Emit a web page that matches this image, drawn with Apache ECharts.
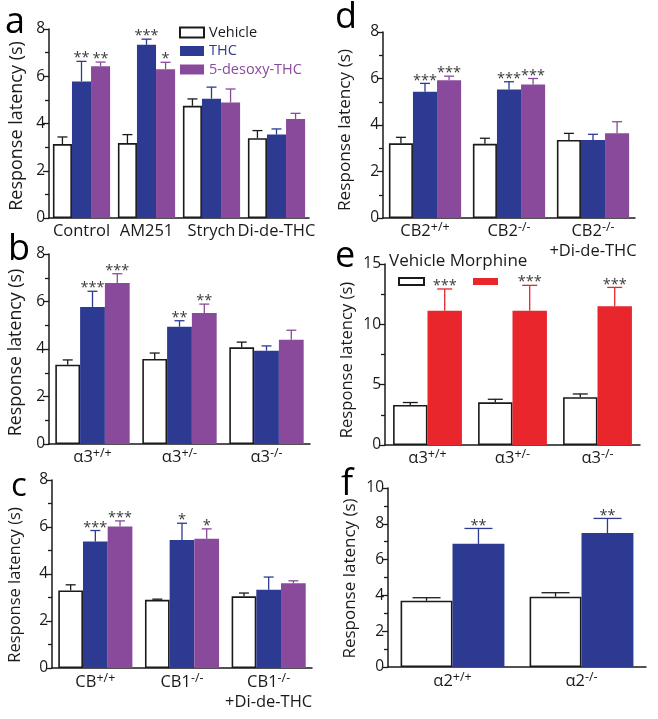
<!DOCTYPE html>
<html><head><meta charset="utf-8">
<script src="https://cdn.jsdelivr.net/npm/echarts@6/dist/echarts.min.js"></script>
<style>html,body{margin:0;padding:0;background:#fff}#c{width:658px;height:719px}</style>
</head><body><div id="c"></div><script>
// ---------- DATA ----------
// panel a
const aCats = ['Control', 'AM251', 'Strych', 'Di-de-THC'];
const aVehicle = [3.13, 3.17, 4.75, 3.38];
const aVehicleErr = [0.30, 0.36, 0.29, 0.32];
const aTHC = [5.78, 7.33, 5.05, 3.53];
const aTHCErr = [0.85, 0.24, 0.49, 0.24];
const aDesoxy = [6.42, 6.30, 4.89, 4.19];
const aDesoxyErr = [0.18, 0.29, 0.57, 0.24];
const aTHCSig = ['**', '***', '', ''];
const aDesoxySig = ['**', '*', '', ''];
const aYTicks = [0, 8, 2];
// panel b
const bCats = ['α3^+/+', 'α3^+/-', 'α3^-/-'];
const bVehicle = [3.34, 3.58, 4.07];
const bVehicleErr = [0.20, 0.25, 0.22];
const bTHC = [5.77, 4.94, 3.93];
const bTHCErr = [0.66, 0.25, 0.20];
const bDesoxy = [6.78, 5.52, 4.39];
const bDesoxyErr = [0.39, 0.37, 0.40];
const bTHCSig = ['***', '**', ''];
const bDesoxySig = ['***', '**', ''];
const bYTicks = [0, 8, 2];
// panel c
const cCats = ['CB^+/+', 'CB1^-/-', 'CB1^-/-\n+Di-de-THC'];
const cVehicle = [3.30, 2.90, 3.05];
const cVehicleErr = [0.24, 0.03, 0.14];
const cTHC = [5.38, 5.45, 3.33];
const cTHCErr = [0.47, 0.71, 0.54];
const cDesoxy = [6.02, 5.50, 3.61];
const cDesoxyErr = [0.24, 0.42, 0.10];
const cTHCSig = ['***', '*', ''];
const cDesoxySig = ['***', '*', ''];
const cYTicks = [0, 8, 2];
// panel d
const dCats = ['CB2^+/+', 'CB2^-/-', 'CB2^-/-\n+Di-de-THC'];
const dVehicle = [3.21, 3.19, 3.36];
const dVehicleErr = [0.26, 0.24, 0.28];
const dTHC = [5.43, 5.53, 3.36];
const dTHCErr = [0.36, 0.33, 0.24];
const dDesoxy = [5.93, 5.74, 3.64];
const dDesoxyErr = [0.17, 0.26, 0.50];
const dTHCSig = ['***', '***', ''];
const dDesoxySig = ['***', '***', ''];
const dYTicks = [0, 8, 2];
// panel e
const eCats = ['α3^+/+', 'α3^+/-', 'α3^-/-'];
const eVehicle = [3.32, 3.54, 3.96];
const eVehicleErr = [0.20, 0.25, 0.27];
const eMorphine = [11.13, 11.13, 11.49];
const eMorphineErr = [1.80, 2.10, 1.57];
const eVehicleSig = ['', '', ''];
const eMorphineSig = ['***', '***', '***'];
const eYTicks = [0, 15, 5];
// panel f
const fCats = ['α2^+/+', 'α2^-/-'];
const fVehicle = [3.70, 3.93];
const fVehicleErr = [0.17, 0.22];
const fTHC = [6.88, 7.48];
const fTHCErr = [0.86, 0.82];
const fVehicleSig = ['', ''];
const fTHCSig = ['**', '**'];
const fYTicks = [0, 10, 2];
const noSig3 = ['', '', ''];
const noSig4 = ['', '', '', ''];

// ---------- STYLE ----------
const FONT = '"Open Sans", "Noto Sans", sans-serif';
const BLUE = '#2d3a92', PURPLE = '#8a4a9c', RED = '#e8262c', INK = '#1a1a1a', STAR = '#3a3a3a';
const VEH = {fill: '#ffffff', border: INK, err: INK};
const BLU = {fill: BLUE, border: BLUE, err: BLUE};
const PUR = {fill: PURPLE, border: PURPLE, err: PURPLE};
const REDS = {fill: RED, border: RED, err: RED};

const panels = [
  {grid: {left: 49, top: 29, width: 260, height: 189}, cats: aCats, ticks: aYTicks, gap: 0.12, cap: 10,
   nameGap: 23.5, nameSize: 18, nameShift: 2.5, labelMargin: 3,
   series: [
     {name: 'Vehicle', v: aVehicle, e: aVehicleErr, sig: noSig4, st: VEH},
     {name: 'THC', v: aTHC, e: aTHCErr, sig: aTHCSig, st: BLU},
     {name: '5-desoxy-THC', v: aDesoxy, e: aDesoxyErr, sig: aDesoxySig, st: PUR}]},
  {grid: {left: 49, top: 254, width: 261, height: 190}, cats: bCats, ticks: bYTicks, gap: 0.145, cap: 10,
   nameGap: 24, nameSize: 17.8, nameShift: 3.5, labelMargin: 3,
   series: [
     {name: 'b Vehicle', v: bVehicle, e: bVehicleErr, sig: noSig3, st: VEH},
     {name: 'b THC', v: bTHC, e: bTHCErr, sig: bTHCSig, st: BLU},
     {name: 'b desoxy', v: bDesoxy, e: bDesoxyErr, sig: bDesoxySig, st: PUR}]},
  {grid: {left: 52, top: 480, width: 260, height: 188}, cats: cCats, ticks: cYTicks, gap: 0.145, cap: 10,
   nameGap: 28, nameSize: 16.5, nameShift: 11, labelMargin: 4,
   series: [
     {name: 'c Vehicle', v: cVehicle, e: cVehicleErr, sig: noSig3, st: VEH},
     {name: 'c THC', v: cTHC, e: cTHCErr, sig: cTHCSig, st: BLU},
     {name: 'c desoxy', v: cDesoxy, e: cDesoxyErr, sig: cDesoxySig, st: PUR}]},
  {grid: {left: 383, top: 32, width: 252, height: 186}, cats: dCats, ticks: dYTicks, gap: 0.14, cap: 10,
   nameGap: 29, nameSize: 17.2, nameShift: 5, labelMargin: 3,
   series: [
     {name: 'd Vehicle', v: dVehicle, e: dVehicleErr, sig: noSig3, st: VEH},
     {name: 'd THC', v: dTHC, e: dTHCErr, sig: dTHCSig, st: BLU},
     {name: 'd desoxy', v: dDesoxy, e: dDesoxyErr, sig: dDesoxySig, st: PUR}]},
  {grid: {left: 385, top: 264, width: 255, height: 181}, cats: eCats, ticks: eYTicks, gap: 0.19, cap: 15,
   nameGap: 29.5, nameSize: 16.6, nameShift: 5.5, labelMargin: 3,
   series: [
     {name: 'e Vehicle', v: eVehicle, e: eVehicleErr, sig: eVehicleSig, st: VEH},
     {name: 'Morphine', v: eMorphine, e: eMorphineErr, sig: eMorphineSig, st: REDS}]},
  {grid: {left: 388, top: 488, width: 258, height: 179}, cats: fCats, ticks: fYTicks, gap: 0.195, cap: 28,
   nameGap: 29, nameSize: 17, nameShift: 1, labelMargin: 4,
   series: [
     {name: 'f Vehicle', v: fVehicle, e: fVehicleErr, sig: fVehicleSig, st: VEH},
     {name: 'f THC', v: fTHC, e: fTHCErr, sig: fTHCSig, st: BLU}]}
];

function catLabel(v) {
  return v.split('\n').map(function (line) {
    const parts = line.split('^');
    return '{n|' + parts[0] + '}' + (parts[1] ? '{s|' + parts[1] + '}' : '');
  }).join('\n');
}

function errRenderer(n, i, gap, capW, color, sigArr) {
  return function (params, api) {
    const k = api.value(0), v = api.value(1), e = api.value(2);
    const catW = api.size([1, 0])[0];
    const bw = catW * (1 - gap) / n;
    const cx = api.coord([k, 0])[0] - bw * n / 2 + bw * (i + 0.5);
    const y1 = api.coord([k, v])[1], y2 = api.coord([k, v + e])[1];
    const children = [
      {type: 'line', shape: {x1: cx, y1: y1, x2: cx, y2: y2}, style: {stroke: color, lineWidth: 1.3}},
      {type: 'line', shape: {x1: cx - capW / 2, y1: y2, x2: cx + capW / 2, y2: y2}, style: {stroke: color, lineWidth: 1.3}}
    ];
    const s = sigArr[params.dataIndex];
    if (s) children.push({type: 'text', style: {text: s, x: cx, y: y2 - 3, align: 'center', verticalAlign: 'middle',
      fontSize: 14.5, fontFamily: FONT, fill: STAR}});
    return {type: 'group', children: children};
  };
}

const grid = [], xAxis = [], yAxis = [], series = [];
panels.forEach(function (p, pi) {
  grid.push(Object.assign({outerBoundsMode: 'none', containLabel: false}, p.grid));
  xAxis.push({type: 'category', gridIndex: pi, data: p.cats,
    axisLine: {lineStyle: {color: INK, width: 1.5}}, axisTick: {show: false},
    axisLabel: {interval: 0, margin: p.labelMargin, formatter: catLabel,
      rich: {n: {fontSize: 16.5, fontFamily: FONT, color: INK, lineHeight: 20},
             s: {fontSize: 12.5, fontFamily: FONT, color: INK, lineHeight: 13, verticalAlign: 'top'}}}});
  yAxis.push({type: 'value', gridIndex: pi, min: p.ticks[0], max: p.ticks[1], interval: p.ticks[2],
    name: 'Response latency (s)', nameLocation: 'middle', nameGap: p.nameGap,
    nameTextStyle: {fontSize: p.nameSize, fontFamily: FONT, color: INK, padding: [0, 2 * p.nameShift, 0, 0]},
    axisLine: {show: true, lineStyle: {color: INK, width: 1.5}},
    axisTick: {show: true, length: 6, lineStyle: {color: INK, width: 1.3}},
    minorTick: {show: true, splitNumber: 2, length: 4, lineStyle: {color: INK, width: 1.3}},
    splitLine: {show: false},
    axisLabel: {fontSize: 15.5, fontFamily: FONT, color: INK, margin: 4}});
  const n = p.series.length;
  p.series.forEach(function (s) {
    series.push({type: 'bar', name: s.name, xAxisIndex: pi, yAxisIndex: pi, data: s.v,
      barGap: '0%', barCategoryGap: (p.gap * 100) + '%', silent: true,
      itemStyle: {color: s.st.fill, borderColor: s.st.border, borderWidth: s.st.fill === '#ffffff' ? 1.6 : 0}});
  });
  p.series.forEach(function (s, si) {
    series.push({type: 'custom', name: s.name + ' err', xAxisIndex: pi, yAxisIndex: pi, z: 3, silent: true,
      data: s.v.map(function (v, k) { return [k, v, s.e[k]]; }),
      renderItem: errRenderer(n, si, p.gap, p.cap, s.st.err, s.sig)});
  });
});

// panel letters: [text, left, baseline, size]
const letters = [['a', 5, 33, 36], ['b', 8, 260, 36], ['c', 11, 496, 33], ['d', 335, 28, 36], ['e', 335, 267, 36], ['f', 341, 495, 36]];
const graphic = letters.map(function (l) {
  return {type: 'text', left: l[1], top: l[2] - l[3] * 0.78, style: {text: l[0], fontSize: l[3], fontFamily: FONT, fill: '#000'}};
});
graphic.push({type: 'text', left: 389, top: 253, style: {text: 'Vehicle Morphine', fontSize: 17, fontFamily: FONT, fill: INK}});

const option = {
  animation: false,
  backgroundColor: '#fff',
  grid: grid, xAxis: xAxis, yAxis: yAxis, series: series, graphic: graphic,
  legend: [
    {left: 179, top: 25, padding: 0, orient: 'vertical', itemWidth: 24, itemHeight: 10, itemGap: 3.5, icon: 'rect', selectedMode: false,
     textStyle: {fontSize: 14.5, fontFamily: FONT, lineHeight: 14},
     data: [{name: 'Vehicle', textStyle: {color: INK}}, {name: 'THC', textStyle: {color: BLUE}},
            {name: '5-desoxy-THC', textStyle: {color: PURPLE}}]},
    {left: 398, top: 277, padding: 0, orient: 'horizontal', itemWidth: 25, itemHeight: 7, itemGap: 44, icon: 'rect', selectedMode: false,
     formatter: function () { return ''; }, textStyle: {fontSize: 1, lineHeight: 1},
     data: ['e Vehicle', 'Morphine']}
  ]
};
const chart = echarts.init(document.getElementById('c'));
chart.setOption(option);
</script></body></html>
